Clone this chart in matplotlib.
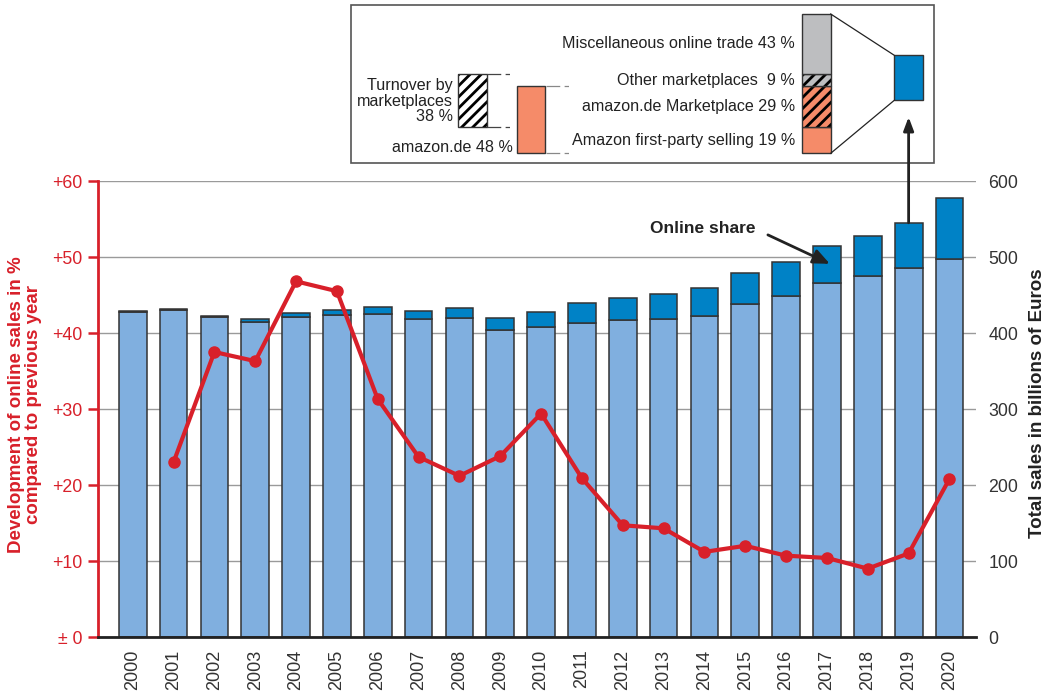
import matplotlib.pyplot as plt
from matplotlib.patches import Rectangle
import numpy as np

plt.rcParams['font.family'] = ['Liberation Sans', 'DejaVu Sans']
plt.rcParams['hatch.linewidth'] = 2.0

# data
years = list(range(2000, 2021))
total_sales = [429, 432, 423, 418, 426, 430, 434, 429, 433, 420, 428,
               439, 446, 451, 459, 479, 494, 515, 528, 545, 578]
online_sales = [1.3, 1.8, 2.3, 3.0, 5.0, 6.6, 8.8, 11.0, 13.0, 16.0, 20.5,
                25.8, 28.6, 32.0, 36.0, 40.3, 44.7, 49.1, 53.4, 59.6, 81.0]
online_growth = [np.nan, 23.0, 37.5, 36.3, 46.8, 45.5, 31.3, 23.7, 21.2, 23.8, 29.4,
                 20.9, 14.7, 14.3, 11.2, 12.0, 10.7, 10.4, 9.0, 11.0, 20.8]

left_ticks = [0, 10, 20, 30, 40, 50, 60]
left_tick_labels = ['\u00b1 0', '+10', '+20', '+30', '+40', '+50', '+60']
right_ticks = [0, 100, 200, 300, 400, 500, 600]

share_labels = ['Amazon first-party selling', 'amazon.de Marketplace',
                'Other marketplaces ', 'Miscellaneous online trade']
share_values = [19, 29, 9, 43]

RED = '#d8202a'
LIGHT = '#80afdf'
BLUE = '#0082c6'
SALMON = '#f58b69'
GREY = '#bdbec0'
EDGE = '#333333'

W, H = 1054, 696
fig = plt.figure(figsize=(W / 100, H / 100), dpi=100)

ax = fig.add_axes([98 / W, 1 - 637 / H, (976 - 98) / W, (637 - 181) / H])
ax2 = ax.twinx()

x = np.arange(len(years))
offline = np.array(total_sales) - np.array(online_sales)
ax2.bar(x, offline, width=0.68, color=LIGHT, edgecolor=EDGE, lw=1.1, zorder=2)
ax2.bar(x, online_sales, bottom=offline, width=0.68, color=BLUE, edgecolor=EDGE, lw=1.1, zorder=2)
ax2.set_ylim(0, 600)
ax2.set_yticks(right_ticks)
ax2.grid(axis='y', color='#9a9a9a', lw=1)
ax2.set_axisbelow(True)
ax2.tick_params(axis='y', length=0, pad=9, labelsize=12.8, labelcolor='#333333')
for s in ax2.spines.values():
    s.set_visible(False)

ax.set_zorder(ax2.get_zorder() + 1)
ax.patch.set_visible(False)
ax.plot(x, online_growth, color=RED, lw=3, marker='o', ms=8, zorder=5)
ax.set_ylim(0, 60)
ax.set_xlim(-0.85, 20.65)
ax.set_yticks(left_ticks, left_tick_labels)
ax.set_xticks(x, years, rotation=90)
ax.tick_params(axis='x', length=0, pad=9, labelsize=13, labelcolor='#333333')
ax.tick_params(axis='y', colors=RED, length=7, width=1.8, pad=4, labelsize=12.8)
ax.spines['top'].set_visible(False)
ax.spines['right'].set_visible(False)
ax.spines['left'].set_color(RED)
ax.spines['left'].set_linewidth(2)
ax.spines['bottom'].set_color('#222222')
ax.spines['bottom'].set_linewidth(2)

fig.text(25 / W, 1 - 405 / H, 'Development of online sales in %\ncompared to previous year',
         rotation=90, ha='center', va='center', color=RED, fontsize=13.5,
         weight='bold', linespacing=1.05)
fig.text(1038 / W, 1 - 403 / H, 'Total sales in billions of Euros', rotation=90,
         ha='center', va='center', color='#222222', fontsize=13.5, weight='bold')

ax2.annotate('Online share', xy=(17.07, 491), xytext=(15.24, 537), ha='right', va='center',
             fontsize=12.5, weight='bold', color='#222222',
             arrowprops=dict(arrowstyle='-|>,head_length=0.8,head_width=0.35', color='#222222',
                             lw=2, relpos=(1.0, 0.5), shrinkA=8, shrinkB=0), zorder=6)

# inset box drawn in pixel coordinates
ov = fig.add_axes([0, 0, 1, 1], zorder=10)
ov.set_xlim(0, W)
ov.set_ylim(H, 0)
ov.axis('off')
ov.add_patch(Rectangle((350.5, 4.7), 583.5, 158.3, fc='white', ec='#555555', lw=1.2))

px = 139.3 / 100
base = 153.3
stack_colors = [SALMON, SALMON, GREY, GREY]
stack_hatch = [None, '///', '///', None]
bottom = base
for lab, v, c, h in zip(share_labels, share_values, stack_colors, stack_hatch):
    top = bottom - v * px
    if h:
        ov.add_patch(Rectangle((802, top), 28.7, v * px, fc=c, ec='black', lw=0, hatch=h))
    ov.add_patch(Rectangle((802, top), 28.7, v * px, fc=c if not h else 'none', ec=EDGE, lw=1))
    ov.text(795, (top + bottom) / 2, f'{lab} {v} %', ha='right', va='center', fontsize=11.6,
            color='#222222')
    bottom = top
stack_top = bottom

# magnified online share segment
ov.add_patch(Rectangle((894.3, 55.3), 28.4, 45, fc=BLUE, ec=EDGE, lw=1))
ov.plot([830.7, 894.3], [stack_top, 55.3], color='#222222', lw=0.9)
ov.plot([830.7, 894.3], [base, 100.3], color='#222222', lw=0.9)

# marketplaces and amazon.de group bars
mp_top = base - sum(share_values[:3]) * px
mp_bot = base - share_values[0] * px
ov.add_patch(Rectangle((457.7, mp_top), 29, mp_bot - mp_top, fc='white', ec='black', lw=0, hatch='///'))
ov.add_patch(Rectangle((457.7, mp_top), 29, mp_bot - mp_top, fc='none', ec=EDGE, lw=1))
ov.text(453, (mp_top + mp_bot) / 2 + 1,
        f'Turnover by\nmarketplaces\n{share_values[1] + share_values[2]} %',
        ha='right', va='center', multialignment='right', fontsize=11.6, color='#222222',
        linespacing=1.05)
for yy in (mp_top, mp_bot):
    ov.plot([486.7, 511.7], [yy, yy], color='#444444', lw=0.9, dashes=(11, 3.5, 3.5, 3.5))

az_top = base - (share_values[0] + share_values[1]) * px
ov.add_patch(Rectangle((517, az_top), 28, base - az_top, fc=SALMON, ec=EDGE, lw=1))
ov.text(513, 147.5, f'amazon.de {share_values[0] + share_values[1]} %', ha='right',
        va='center', fontsize=11.6, color='#222222')
for yy in (az_top, base):
    ov.plot([545.5, 570], [yy, yy], color='#888888', lw=0.9, dashes=(11, 3.5, 3.5, 3.5))

# arrow from 2019 bar up to the inset
ov.annotate('', xy=(19, 117), xycoords=(ax2.transData, ov.transData),
            xytext=(19, total_sales[19]), textcoords=ax2.transData,
            arrowprops=dict(arrowstyle='-|>,head_length=0.8,head_width=0.3', color='#222222',
                            lw=2, shrinkA=0, shrinkB=0))

fig.savefig('out.png', dpi=100)
